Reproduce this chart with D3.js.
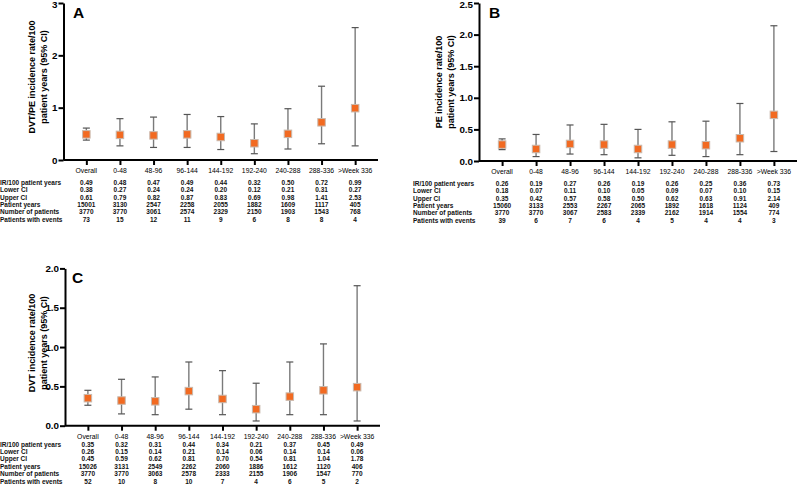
<!DOCTYPE html>
<html><head><meta charset="utf-8">
<script src="https://cdn.jsdelivr.net/npm/d3@7"></script>
<style>
html,body{margin:0;padding:0;background:#fff;}
svg{display:block;}
</style></head>
<body><svg id="chart" width="798" height="494"></svg>
<script>
const categories = ["Overall","0-48","48-96","96-144","144-192","192-240","240-288","288-336",">Week 336"];
const rowLabels = ["IR/100 patient years","Lower CI","Upper CI","Patient years","Number of patients","Patients with events"];

// Panel A: DVT/PE
const irA    = [0.49,0.48,0.47,0.49,0.44,0.32,0.50,0.72,0.99];
const lowerA = [0.38,0.27,0.24,0.24,0.20,0.12,0.21,0.31,0.27];
const upperA = [0.61,0.79,0.82,0.87,0.83,0.69,0.98,1.41,2.53];
const pyA    = [15001,3130,2547,2258,2055,1882,1609,1117,405];
const nA     = [3770,3770,3061,2574,2329,2150,1903,1543,768];
const evA    = [73,15,12,11,9,6,8,8,4];
const ticksA = [0,1,2,3];

// Panel B: PE
const irB    = [0.26,0.19,0.27,0.26,0.19,0.26,0.25,0.36,0.73];
const lowerB = [0.18,0.07,0.11,0.10,0.05,0.09,0.07,0.10,0.15];
const upperB = [0.35,0.42,0.57,0.58,0.50,0.62,0.63,0.91,2.14];
const pyB    = [15060,3133,2553,2267,2065,1892,1618,1124,409];
const nB     = [3770,3770,3067,2583,2339,2162,1914,1554,774];
const evB    = [39,6,7,6,4,5,4,4,3];
const ticksB = [0,0.5,1.0,1.5,2.0,2.5];

// Panel C: DVT
const irC    = [0.35,0.32,0.31,0.44,0.34,0.21,0.37,0.45,0.49];
const lowerC = [0.26,0.15,0.14,0.21,0.14,0.06,0.14,0.14,0.06];
const upperC = [0.45,0.59,0.62,0.81,0.70,0.54,0.81,1.04,1.78];
const pyC    = [15026,3131,2549,2262,2060,1886,1612,1120,406];
const nC     = [3770,3770,3063,2578,2333,2155,1906,1547,770];
const evC    = [52,10,8,10,7,4,6,5,2];
const ticksC = [0,0.5,1.0,1.5,2.0];

const panels = [
  {letter:"A", title:["DVT/PE incidence rate/100","patient years (95% CI)"], ir:irA, lo:lowerA, hi:upperA, py:pyA, n:nA, ev:evA, ticks:ticksA, fmt:d3.format("d"),
   x0:63.5, x1:378, y0:160, y1:3, rowX:0, rowY0:182.5, labY:171, titleX:32, titleY:77, letterX:73, letterY:18},
  {letter:"B", title:["PE incidence rate/100","patient years (95% CI)"], ir:irB, lo:lowerB, hi:upperB, py:pyB, n:nB, ev:evB, ticks:ticksB, fmt:d3.format(".1f"),
   x0:479, x1:797, y0:161, y1:3, rowX:413, rowY0:183.5, labY:172, titleX:439, titleY:82, letterX:489, letterY:18},
  {letter:"C", title:["DVT incidence rate/100","patient years (95% CI)"], ir:irC, lo:lowerC, hi:upperC, py:pyC, n:nC, ev:evC, ticks:ticksC, fmt:d3.format(".1f"),
   x0:65, x1:380, y0:425.7, y1:268.4, rowX:0, rowY0:444.3, labY:436.3, titleX:32, titleY:343, letterX:72, letterY:283}
];

const svg = d3.select("#chart");
const f2 = d3.format(".2f");
const rowStep = 7.4;
const tableFont = "Liberation Sans, Arial, sans-serif";

panels.forEach(p => {
  const g = svg.append("g");
  const x = d3.scalePoint().domain(categories).range([p.x0, p.x1]).padding(0.68);
  const y = d3.scaleLinear().domain([0, p.ticks[p.ticks.length-1]]).range([p.y0, p.y1]);

  // y axis
  const ya = g.append("g").attr("transform", `translate(${p.x0},0)`)
    .call(d3.axisLeft(y).tickValues(p.ticks).tickFormat(p.fmt).tickSize(5).tickSizeOuter(0));
  ya.select(".domain").attr("stroke","#000").attr("stroke-width",2);
  ya.selectAll(".tick line").attr("stroke","#000").attr("stroke-width",2);
  ya.selectAll(".tick text").attr("font-family","Liberation Sans, Arial, sans-serif")
    .attr("font-weight","bold").attr("font-size","9.8px").attr("fill","#000").attr("x",-6)
    .attr("dy", d => (y(d) < 8 ? "0.5em" : "0.32em"));

  // x axis
  const xa = g.append("g").attr("transform", `translate(0,${p.y0})`)
    .call(d3.axisBottom(x).tickSize(5).tickSizeOuter(0).tickFormat(""));
  xa.select(".domain").attr("stroke","#000").attr("stroke-width",2)
    .attr("d", `M${p.x0},0H${p.x1}`);
  xa.selectAll(".tick line").attr("stroke","#000").attr("stroke-width",2);

  // category labels
  g.selectAll(".cat").data(categories).join("text")
    .attr("x", d => x(d)).attr("y", p.labY).attr("dy","0.35em")
    .attr("text-anchor","middle").attr("font-family","Liberation Sans, Arial, sans-serif")
    .attr("font-size","6.8px").attr("fill","#000").text(d => d);

  // y title
  p.title.forEach((t,i) => {
    g.append("text").attr("transform", `translate(${p.titleX + i*11.5},${p.titleY}) rotate(-90)`)
      .attr("text-anchor","middle").attr("dy","0.35em")
      .attr("font-family","Liberation Sans, Arial, sans-serif").attr("font-weight","bold")
      .attr("font-size","9px").attr("fill","#000").text(t);
  });

  // panel letter
  g.append("text").attr("x", p.letterX).attr("y", p.letterY)
    .attr("font-family","Liberation Sans, Arial, sans-serif").attr("font-weight","bold")
    .attr("font-size","15.5px").attr("fill","#000").text(p.letter);

  // error bars
  const idx = d3.range(categories.length);
  g.selectAll(".eb").data(idx).join("line")
    .attr("x1", i => x(categories[i])).attr("x2", i => x(categories[i]))
    .attr("y1", i => y(p.lo[i])).attr("y2", i => y(p.hi[i]))
    .attr("stroke","#7a7a7a").attr("stroke-width",1.4);
  ["lo","hi"].forEach(k => {
    g.selectAll(".cap"+k).data(idx).join("line")
      .attr("x1", i => x(categories[i]) - 3.5).attr("x2", i => x(categories[i]) + 3.5)
      .attr("y1", i => y(p[k][i])).attr("y2", i => y(p[k][i]))
      .attr("stroke","#555").attr("stroke-width",1.2);
  });

  // markers
  const s = 7.5;
  g.selectAll(".pt").data(idx).join("rect")
    .attr("x", i => x(categories[i]) - s/2).attr("y", i => y(p.ir[i]) - s/2)
    .attr("width", s).attr("height", s)
    .attr("fill","#f26a21").attr("stroke","#c9b9ad").attr("stroke-width",1);

  // table
  const rows = [p.ir.map(f2), p.lo.map(f2), p.hi.map(f2), p.py.map(String), p.n.map(String), p.ev.map(String)];
  rows.forEach((vals, r) => {
    const yy = p.rowY0 + r*rowStep;
    g.append("text").attr("x", p.rowX).attr("y", yy).attr("dy","0.35em")
      .attr("font-family",tableFont).attr("font-weight","bold")
      .attr("font-size","6.5px").attr("fill","#111").text(rowLabels[r]);
    g.selectAll(".r"+r).data(vals).join("text")
      .attr("x", (d,i) => x(categories[i])).attr("y", yy).attr("dy","0.35em")
      .attr("text-anchor","middle")
      .attr("font-family",tableFont).attr("font-weight","bold")
      .attr("font-size","6.5px").attr("fill","#111").text(d => d);
  });
});
</script>
</body></html>
